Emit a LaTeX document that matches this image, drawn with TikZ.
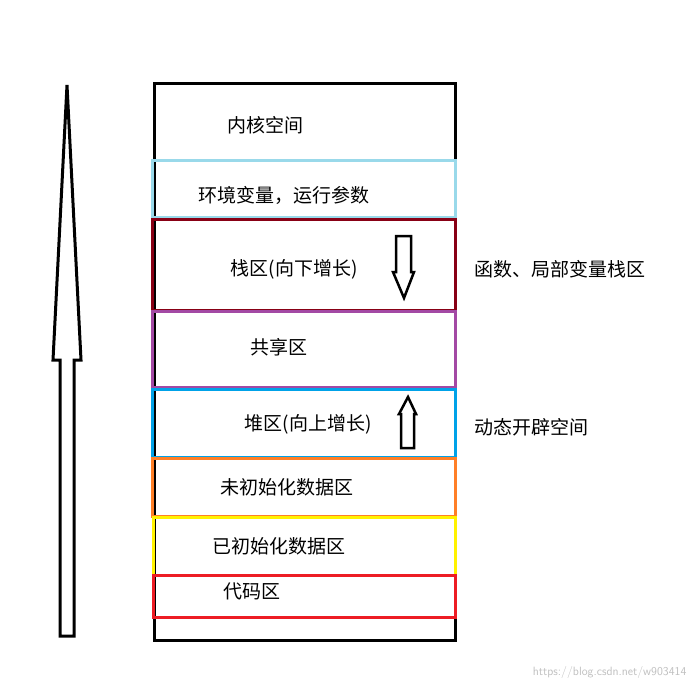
\documentclass[tikz,border=0pt]{standalone}
\usepackage{fontspec}
\newfontfamily\cjk{Noto Sans CJK SC}
\begin{document}
\begin{tikzpicture}[x=1pt,y=-1pt,
  band/.style={line width=3pt},
  lbl/.style={font=\cjk\fontsize{19}{22}\selectfont,inner sep=0pt},
  hollow/.style={draw=black,line width=3pt,fill=white,line join=miter}]
\useasboundingbox (0,0) rectangle (698,688);
\draw[line width=3pt] (154,83) rectangle (455,640);
\draw[band,draw={rgb,255:red,153;green,217;blue,234}] (152,160) rectangle (455,217);
\draw[band,draw={rgb,255:red,136;green,0;blue,21}] (152,219) rectangle (455,310);
\draw[band,draw={rgb,255:red,163;green,73;blue,164}] (152,311) rectangle (455,387);
\draw[band,draw={rgb,255:red,0;green,162;blue,232}] (152,389) rectangle (455,457);
\draw[band,draw={rgb,255:red,255;green,127;blue,39}] (152,458) rectangle (455,516);
\draw[band,draw={rgb,255:red,255;green,242;blue,0}] (153,517) rectangle (455,575);
\draw[band,draw={rgb,255:red,237;green,28;blue,36}] (153,575) rectangle (455,617);
\node[lbl] (k) at (265,125) {内核空间};
\node[lbl] (e) at (284,195) {环境变量，运行参数};
\node[lbl] (s) at (294,269) {栈区(向下增长)};
\node[lbl] (g) at (279,347) {共享区};
\node[lbl] (h) at (308,424) {堆区(向上增长)};
\node[lbl] (u) at (287,487) {未初始化数据区};
\node[lbl] (d) at (279,546) {已初始化数据区};
\node[lbl] (c) at (252,591) {代码区};
\node[lbl] (f) at (560,269) {函数、局部变量栈区};
\node[lbl] (dy) at (531,427) {动态开辟空间};
\draw[hollow] (60,636) -- (60,360) -- (53,360) -- (67,85) -- (81,360) -- (74,360) -- (74,636) -- cycle;
\draw[hollow,line width=2.5pt] (396,236) -- (411,236) -- (411,272) -- (414,272) -- (404,298) -- (393,272) -- (396,272) -- cycle;
\draw[hollow,line width=2.5pt] (401,448) -- (414,448) -- (414,414) -- (416,414) -- (408,397) -- (399,414) -- (401,414) -- cycle;
\node[anchor=south east,font=\sffamily\fontsize{12}{14}\selectfont,text=black!25] (w) at (690,682) {https://blog.csdn.net/w903414};
\end{tikzpicture}
\end{document}
